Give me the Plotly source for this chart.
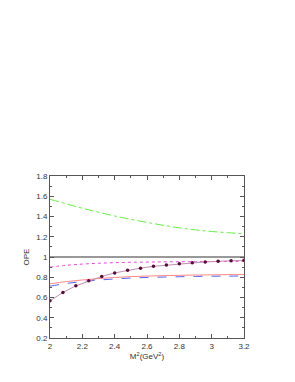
import plotly.graph_objects as go

x_dots = [2.0, 2.08, 2.16, 2.24, 2.32, 2.40, 2.48, 2.56, 2.64, 2.72, 2.80, 2.88, 2.96, 3.04, 3.12, 3.20]
y_dots = [0.567, 0.650, 0.715, 0.765, 0.808, 0.843, 0.870, 0.890, 0.908, 0.920, 0.933, 0.943, 0.951, 0.957, 0.963, 0.968]

x_curve = [2.0, 2.1, 2.2, 2.3, 2.4, 2.5, 2.6, 2.7, 2.8, 2.9, 3.0, 3.1, 3.2]
y_green = [1.57, 1.525, 1.482, 1.442, 1.405, 1.372, 1.342, 1.313, 1.288, 1.268, 1.252, 1.24, 1.23]
y_magenta = [0.90, 0.918, 0.93, 0.938, 0.944, 0.948, 0.950, 0.952, 0.953, 0.954, 0.955, 0.955, 0.955]
y_red = [0.735, 0.757, 0.773, 0.787, 0.798, 0.806, 0.812, 0.816, 0.819, 0.822, 0.824, 0.826, 0.828]
y_blue = [0.712, 0.738, 0.757, 0.772, 0.783, 0.792, 0.798, 0.802, 0.805, 0.808, 0.810, 0.811, 0.812]
y_one = [1.0] * len(x_curve)

fig = go.Figure()
fig.add_trace(go.Scatter(x=x_curve, y=y_green, mode="lines", line_shape="spline",
                         line=dict(color="#66ee44", width=1, dash="dashdot")))
fig.add_trace(go.Scatter(x=x_curve, y=y_one, mode="lines",
                         line=dict(color="#333333", width=1)))
fig.add_trace(go.Scatter(x=x_curve, y=y_magenta, mode="lines", line_shape="spline",
                         line=dict(color="#ee44dd", width=1, dash="dot")))
fig.add_trace(go.Scatter(x=x_curve, y=y_red, mode="lines", line_shape="spline",
                         line=dict(color="#ff8888", width=1)))
fig.add_trace(go.Scatter(x=x_curve, y=y_blue, mode="lines", line_shape="spline",
                         line=dict(color="#5566ee", width=1, dash="dash")))
fig.add_trace(go.Scatter(x=x_dots, y=y_dots, mode="lines+markers",
                         line=dict(color="#c090b0", width=1),
                         marker=dict(color="#5a0a3a", size=3.5)))

axis_common = dict(showgrid=False, zeroline=False, showline=True, linecolor="#555555",
                   linewidth=1, mirror="ticks", ticks="inside", ticklen=4,
                   tickcolor="#555555", tickfont=dict(family="Liberation Sans", size=8, color="#333333"))

fig.update_xaxes(range=[2, 3.2], dtick=0.2, tick0=2,
                 minor=dict(dtick=0.1, ticks="inside", ticklen=2, tickcolor="#555555"),
                 title=dict(text="M<sup>2</sup>(GeV<sup>2</sup>)", standoff=2,
                            font=dict(family="Liberation Sans", size=8, color="#333333")),
                 **axis_common)
fig.update_yaxes(range=[0.2, 1.8], dtick=0.2, tick0=0.2,
                 minor=dict(dtick=0.1, ticks="inside", ticklen=2, tickcolor="#555555"),
                 title=dict(text="OPE", standoff=5,
                            font=dict(family="Liberation Sans", size=8, color="#333333")),
                 **axis_common)

fig.update_layout(width=287, height=374, showlegend=False,
                  margin=dict(l=42, r=51, t=168, b=44),
                  plot_bgcolor="white", paper_bgcolor="white")

fig.write_html("out.html")
